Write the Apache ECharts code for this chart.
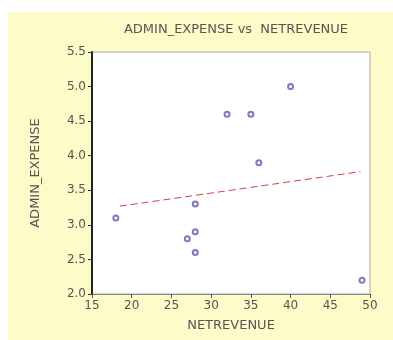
<!DOCTYPE html>
<html><head><meta charset="utf-8">
<script src="https://cdn.jsdelivr.net/npm/echarts@6/dist/echarts.min.js"></script>
<style>html,body{margin:0;padding:0;background:#fff;width:393px;height:340px;overflow:hidden}
#c{position:absolute;left:8px;top:12px;width:385px;height:328px}</style>
</head><body><div id="c"></div>
<script>
const titleText = 'ADMIN_EXPENSE vs  NETREVENUE';
const xName = 'NETREVENUE';
const yName = 'ADMIN_EXPENSE';
const netRevenue = [18, 27, 28, 28, 28, 32, 35, 36, 40, 49];
const adminExpense = [3.1, 2.8, 2.9, 2.6, 3.3, 4.6, 4.6, 3.9, 5.0, 2.2];
const fitX = [18.5, 48.8];
const fitY = [3.27, 3.77];

const chart = echarts.init(document.getElementById('c'), null, {renderer:'canvas'});
chart.setOption({
  backgroundColor: '#fdfbc8',
  animation: false,
  title: {text: titleText, left: 223, textAlign:'center', top: 6, textStyle:{fontFamily:'DejaVu Sans', fontSize:13, fontWeight:'normal', color:'#555'}},
  grid: {left: 84, top: 40, width: 278, height: 242, show:true, backgroundColor:'#ffffff', borderColor:'#aaa', borderWidth:1},
  xAxis: {type:'value', min:15, max:50, interval:5, name:xName, nameLocation:'middle', nameGap:25,
    nameTextStyle:{fontFamily:'DejaVu Sans', fontSize:13, color:'#555'},
    axisLine:{show:true, lineStyle:{color:'#888', width:1}}, axisTick:{show:true, length:4, lineStyle:{color:'#555'}},
    axisLabel:{fontFamily:'DejaVu Sans', fontSize:12, color:'#555', margin:6}, splitLine:{show:false}},
  yAxis: {type:'value', min:2.0, max:5.5, interval:0.5, name:yName, nameLocation:'middle', nameGap:50, nameRotate:90,
    nameTextStyle:{fontFamily:'DejaVu Sans', fontSize:13, color:'#555'},
    axisLine:{show:true, lineStyle:{color:'#222', width:2}}, axisTick:{show:true, length:4, lineStyle:{color:'#333'}},
    axisLabel:{fontFamily:'DejaVu Sans', fontSize:12, color:'#555', margin:6, formatter: v => v.toFixed(1)}, splitLine:{show:false}},
  series: [
    {type:'scatter', data: netRevenue.map((x,i)=>[x, adminExpense[i]]), symbol:'emptyCircle', symbolSize:5,
      itemStyle:{color:'#5a5ab0', borderColor:'#5a5ab0', borderWidth:1}},
    {type:'line', data: fitX.map((x,i)=>[x, fitY[i]]), symbol:'none', lineStyle:{color:'#d84040', width:1, type:[7,4]}}
  ]
});
</script></body></html>
